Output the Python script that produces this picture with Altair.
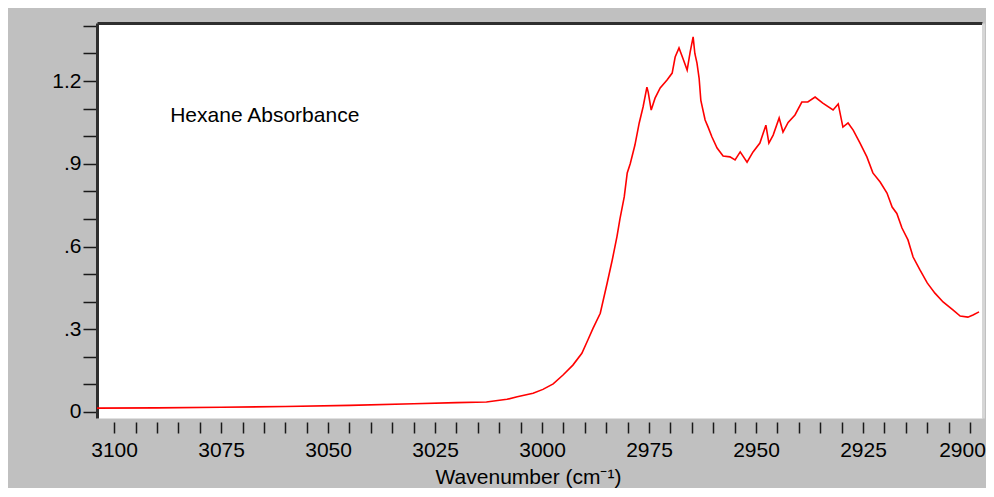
import altair as alt
import pandas as pd

# Spectrum: wavenumber (cm^-1) and absorbance
wavenumber = [
    3104.0, 3090.0, 3075.0, 3060.0, 3045.0, 3030.0, 3020.0, 3013.0,
    3008.2, 3005.8, 3002.1, 2999.8, 2997.4, 2995.1, 2992.8, 2990.7,
    2989.3, 2988.1, 2986.4, 2984.8, 2983.6, 2982.5, 2981.8, 2980.8,
    2980.1, 2979.4, 2978.3, 2977.3, 2976.4, 2975.5, 2975.2, 2974.5,
    2973.6, 2972.4, 2970.8, 2969.6, 2968.9, 2968.0, 2967.1, 2966.1,
    2965.4, 2964.7, 2964.3, 2963.8, 2963.3, 2962.9, 2961.9, 2961.2,
    2960.3, 2959.1, 2957.7, 2956.1, 2954.9, 2953.7, 2952.1, 2950.7,
    2949.1, 2947.7, 2947.0, 2946.0, 2944.6, 2943.7, 2942.5, 2940.9,
    2939.3, 2937.9, 2936.2, 2934.4, 2932.0, 2930.8, 2929.7, 2928.5,
    2927.3, 2925.7, 2924.1, 2922.7, 2921.0, 2919.4, 2918.2, 2917.1,
    2915.9, 2914.5, 2913.3, 2911.7, 2910.0, 2908.2, 2906.3, 2904.0,
    2902.3, 2900.5, 2899.3, 2897.9,
]
absorbance = [
    0.014, 0.015, 0.017, 0.020, 0.024, 0.030, 0.034, 0.036,
    0.046, 0.055, 0.068, 0.082, 0.102, 0.134, 0.170, 0.213,
    0.261, 0.303, 0.358, 0.467, 0.551, 0.636, 0.700, 0.780,
    0.867, 0.900, 0.968, 1.048, 1.106, 1.178, 1.160, 1.095,
    1.138, 1.175, 1.204, 1.229, 1.287, 1.320, 1.283, 1.240,
    1.305, 1.360, 1.300, 1.265, 1.210, 1.130, 1.059, 1.033,
    0.997, 0.957, 0.928, 0.925, 0.914, 0.943, 0.906, 0.943,
    0.975, 1.040, 0.975, 1.004, 1.066, 1.015, 1.050, 1.077,
    1.124, 1.124, 1.142, 1.120, 1.095, 1.117, 1.033, 1.048,
    1.022, 0.975, 0.925, 0.867, 0.834, 0.794, 0.743, 0.720,
    0.667, 0.624, 0.562, 0.515, 0.468, 0.431, 0.399, 0.370,
    0.348, 0.344, 0.352, 0.363,
]

x_ticks = list(range(2900, 3101, 5))
y_ticks = [0.0, 0.1, 0.2, 0.3, 0.4, 0.5, 0.6, 0.7, 0.8, 0.9, 1.0, 1.1, 1.2, 1.3, 1.4]

annotation_text = ["Hexane Absorbance"]
annotation_x = [3086.9]
annotation_y = [1.051]

FONT = "Liberation Sans"

df = pd.DataFrame({"wavenumber": wavenumber, "absorbance": absorbance})
ann = pd.DataFrame({"wavenumber": annotation_x, "absorbance": annotation_y, "label": annotation_text})

x_scale = alt.Scale(domain=[3104.0, 2897.2], nice=False, zero=False)
y_scale = alt.Scale(domain=[-0.0218, 1.4105], nice=False, zero=False)

x_label_expr = "datum.value % 25 == 0 ? format(datum.value, 'd') : ''"
y_label_expr = (
    "indexof(['0.0','0.3','0.6','0.9','1.2'], format(datum.value, '.1f')) >= 0 ? "
    "(datum.value < 0.05 ? '0' : (datum.value < 1 ? substring(format(datum.value, '.1f'), 1) "
    ": format(datum.value, '.1f'))) : ''"
)

line = alt.Chart(df).mark_line(color="#ff0000", strokeWidth=1.6, clip=True).encode(
    x=alt.X(
        "wavenumber:Q",
        scale=x_scale,
        axis=alt.Axis(
            orient="bottom",
            values=x_ticks,
            labelExpr=x_label_expr,
            domain=False,
            offset=4,
            tickSize=11,
            tickColor="#1a1a1a",
            tickWidth=1.5,
            labelFont=FONT,
            labelFontSize=21,
            labelColor="black",
            labelPadding=23,
            labelBaseline="alphabetic",
            labelOffset={"condition": {"test": "datum.value == 2900", "value": -8}, "value": 0},
            labelOverlap=False,
            grid=False,
            title="Wavenumber (cm⁻¹)",
            titleFont=FONT,
            titleFontSize=21,
            titleFontWeight="normal",
            titleColor="black",
            titleX=431,
            titleY=61,
            titleAlign="center",
            titleBaseline="alphabetic",
        ),
    ),
    y=alt.Y(
        "absorbance:Q",
        scale=y_scale,
        axis=alt.Axis(
            orient="left",
            values=y_ticks,
            labelExpr=y_label_expr,
            domainColor="#2e2e2e",
            domainWidth=3,
            tickSize=14,
            tickColor="#1a1a1a",
            tickWidth=1.5,
            labelFont=FONT,
            labelFontSize=21,
            labelColor="black",
            labelPadding=2,
            labelOverlap=False,
            grid=False,
            title=None,
        ),
    ),
)

frame = alt.Chart(df).mark_line(strokeOpacity=0).encode(
    x=alt.X(
        "wavenumber:Q",
        scale=x_scale,
        axis=alt.Axis(orient="top", domainColor="#2e2e2e", domainWidth=3,
                      ticks=False, labels=False, grid=False, title=None),
    ),
    y=alt.Y(
        "absorbance:Q",
        scale=y_scale,
        axis=alt.Axis(orient="right", domainColor="#d6d6d6", domainWidth=3, offset=1,
                      ticks=False, labels=False, grid=False, title=None),
    ),
)

text = alt.Chart(ann).mark_text(
    align="left", baseline="alphabetic", font=FONT, fontSize=21, color="black"
).encode(
    x=alt.X("wavenumber:Q", scale=x_scale, axis=None),
    y=alt.Y("absorbance:Q", scale=y_scale, axis=None),
    text="label:N",
)

chart = (
    alt.layer(line, frame, text)
    .resolve_axis(x="independent", y="independent")
    .properties(
        width=885,
        height=395,
        autosize=alt.AutoSizeParams(type="none"),
        padding={"left": 89, "top": 15, "right": 4, "bottom": 70},
        background="#c0c0c0",
    )
    .configure_view(fill="white", stroke="transparent")
)

chart.save("out.html", embed_options={"renderer": "svg", "actions": False})
